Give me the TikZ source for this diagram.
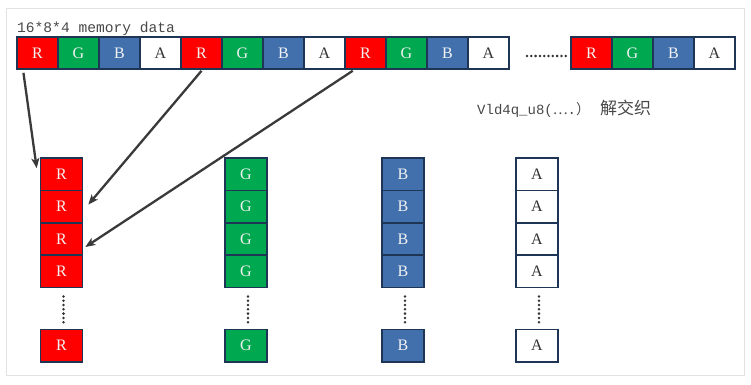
\documentclass[tikz,border=0pt]{standalone}
\usepackage{fontspec}
\setmainfont{Liberation Serif}
\newfontfamily\monof{Liberation Mono}
\newfontfamily\cjkf{Noto Sans CJK SC}
\usetikzlibrary{arrows.meta,calc}
\definecolor{cR}{HTML}{FF0000}
\definecolor{cG}{HTML}{00A850}
\definecolor{cB}{HTML}{4270AC}
\definecolor{edge}{HTML}{1E3556}
\definecolor{frame}{HTML}{E2E2E2}
\definecolor{arrowc}{HTML}{3A3A3A}
\definecolor{lighttxt}{HTML}{F2F2F2}
\definecolor{darktxt}{HTML}{333333}
\tikzset{
  cell/.style={draw=edge, line width=1.6pt, minimum width=41pt, minimum height=32pt, inner sep=0pt,
    font=\fontsize{16}{16}\selectfont},
  vcell/.style={cell, minimum width=42pt, minimum height=32.4pt},
  rc/.style={fill=cR, text=lighttxt},
  gc/.style={fill=cG, text=lighttxt},
  bc/.style={fill=cB, text=lighttxt},
  ac/.style={fill=white, text=darktxt},
  dotline/.style={line width=2.8pt, line cap=round, dash pattern=on 0pt off 4.3pt, draw=darktxt},
  conn/.style={draw=arrowc, line width=2.3pt, -{Stealth[length=10pt,width=8pt,inset=2.5pt]}},
}
\begin{document}
\begin{tikzpicture}[x=1pt,y=-1pt]
\useasboundingbox (0,0) rectangle (751,384);
\draw[frame, line width=1pt] (6,8) rectangle (744,375);

% title
\node[anchor=base west, inner sep=0pt, font=\monof\fontsize{14.6}{14.6}\selectfont, text=darktxt!90] (title) at (17,32) {16*8*4 memory data};

% top row
\foreach \i/\s/\t in {0/rc/R,1/gc/G,2/bc/B,3/ac/A,4/rc/R,5/gc/G,6/bc/B,7/ac/A,8/rc/R,9/gc/G,10/bc/B,11/ac/A}{
  \pgfmathtruncatemacro{\n}{\i+1}
  \node[cell,\s] (t\n) at ({37.5+41*\i},53) {\t};
}
\foreach \i/\s/\t in {0/rc/R,1/gc/G,2/bc/B,3/ac/A}{
  \pgfmathtruncatemacro{\n}{\i+13}
  \node[cell,\s] (t\n) at ({591.5+41*\i},53) {\t};
}
\coordinate (hd1) at (527,56);
\coordinate (hd2) at (569,56);
\draw[dotline] (hd1) -- (hd2);

% caption
\node[anchor=base west, inner sep=0pt, text=darktxt!90] (cap) at (477,114)
  {{\monof\fontsize{14}{14}\selectfont Vld4q\_u8(}{\cjkf\fontsize{14}{14}\selectfont …}{\monof\fontsize{14}{14}\selectfont .}{\cjkf\fontsize{14}{14}\selectfont ）}\hspace{10pt}{\cjkf\fontsize{17}{17}\selectfont 解交织}};

% columns
\foreach \x/\s/\t/\c in {61.5/rc/R/r,246/gc/G/g,403/bc/B/b,537/ac/A/a}{
  \foreach \k in {1,2,3,4}{
    \node[vcell,\s] (\c\k) at (\x,{174.2+32.4*(\k-1)}) {\t};
  }
  \node[vcell,\s] (\c5) at (\x,345.5) {\t};
  \coordinate (\c d1) at ($(\c4.south)+(2,8)$);
  \coordinate (\c d2) at ($(\c5.north)+(2,-4)$);
  \draw[dotline] (\c d1) -- (\c d2);
}

% arrows
\coordinate (s1) at ($(t1.south west)!0.17!(t1.south east)+(0,3)$);
\coordinate (e1) at ($(r1.west)+(-3,-6)$);
\draw[conn] (s1) -- (e1);
\coordinate (s2) at ($(t5.south)+(0,1)$);
\coordinate (e2) at ($(r2.east)+(5,-2)$);
\draw[conn] (s2) -- (e2);
\coordinate (s3) at ($(t9.south west)!0.2!(t9.south east)+(0,1)$);
\coordinate (e3) at ($(r3.east)+(2,8)$);
\draw[conn] (s3) -- (e3);
\end{tikzpicture}
\end{document}
